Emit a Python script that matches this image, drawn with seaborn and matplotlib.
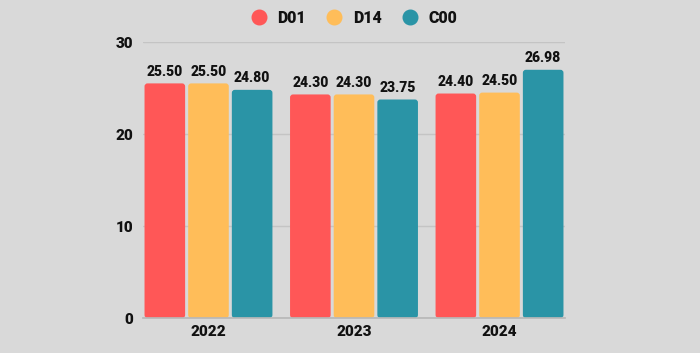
import matplotlib
matplotlib.use("Agg")
import matplotlib.pyplot as plt
import seaborn as sns
import pandas as pd
from matplotlib.lines import Line2D
from matplotlib.patches import FancyBboxPatch

years = ["2022", "2023", "2024"]
series = ["D01", "D14", "C00"]
d01 = [25.50, 24.30, 24.40]
d14 = [25.50, 24.30, 24.50]
c00 = [24.80, 23.75, 26.98]
colors = ["#FF5757", "#FFBD59", "#2A94A6"]
bg = "#D9D9D9"

rows = []
for name, vals in zip(series, [d01, d14, c00]):
    for y, v in zip(years, vals):
        rows.append({"year": y, "series": name, "value": v})
df = pd.DataFrame(rows)

sns.set_theme(style="white")
plt.rcParams['font.family'] = ['Roboto', 'DejaVu Sans']
W = "black"

fig = plt.figure(figsize=(7, 3.53), dpi=100, facecolor=bg)
ax = fig.add_axes([143/700, 1-318/353, (565-143)/700, (318-42)/353])
ax.set_facecolor(bg)

sns.barplot(data=df, x="year", y="value", hue="series", palette=colors,
            width=0.9, gap=0.07, ax=ax, legend=False, saturation=1,
            order=years, hue_order=series, linewidth=0)

ax.set_ylim(0, 30)
ax.set_xlim(-0.45, 2.45)
ax.set_yticks([0, 10, 20, 30])
ax.yaxis.grid(True, color="#C4C4C4", linewidth=1)
ax.set_axisbelow(True)
for s in ["top", "right", "left"]:
    ax.spines[s].set_visible(False)
ax.spines["bottom"].set_color("#B8B8B8")
ax.set_xlabel("")
ax.set_ylabel("")
ax.tick_params(axis="y", length=0, labelsize=11, pad=7)
ax.tick_params(axis="x", length=0, labelsize=11, pad=5)
for lab in ax.get_xticklabels() + ax.get_yticklabels():
    lab.set_fontweight(W)
    lab.set_color("#111111")

for cont in ax.containers:
    ax.bar_label(cont, fmt="%.2f", padding=3.5, fontsize=10, fontweight=W, color="#111111")

# rounded corners
fig.canvas.draw()
px_x = ax.transData.transform((1, 0))[0] - ax.transData.transform((0, 0))[0]
px_y = ax.transData.transform((0, 1))[1] - ax.transData.transform((0, 0))[1]
r = 3.0
for p in list(ax.patches):
    x, y0 = p.get_x(), p.get_y()
    w, h = p.get_width(), p.get_height()
    fc = p.get_facecolor()
    p.set_visible(False)
    fb = FancyBboxPatch((x, y0), w, h,
                        boxstyle=f"round,pad=0,rounding_size={r/px_x}",
                        mutation_aspect=px_x/px_y, facecolor=fc,
                        edgecolor="none", zorder=p.get_zorder())
    ax.add_patch(fb)

handles = [Line2D([0], [0], marker="o", linestyle="", markersize=10.5,
                  markerfacecolor=c, markeredgecolor=c) for c in colors]
leg = fig.legend(handles, series, loc="upper center", bbox_to_anchor=(0.5, 1.013),
                 ncol=3, frameon=False, fontsize=11.5, handletextpad=0.15,
                 columnspacing=0.8)
for t in leg.get_texts():
    t.set_fontweight(W)
    t.set_color("#111111")

fig.savefig("out.png", dpi=100, facecolor=bg)
